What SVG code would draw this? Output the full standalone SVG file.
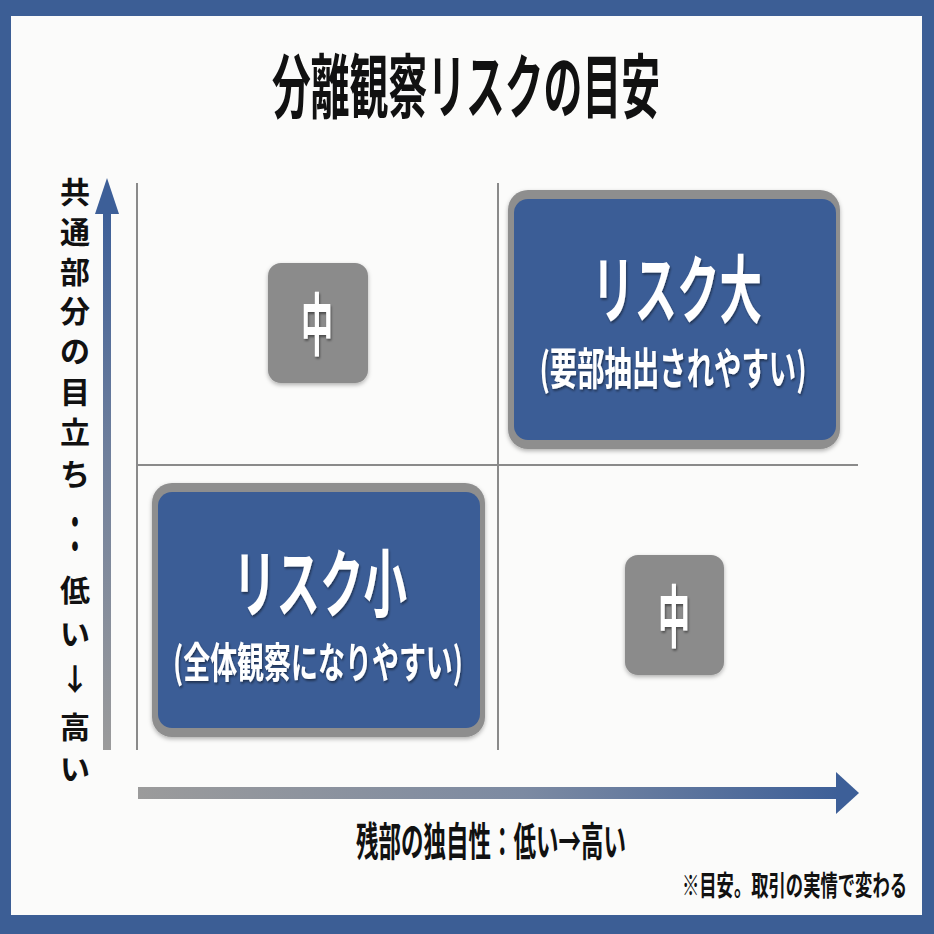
<svg xmlns="http://www.w3.org/2000/svg" width="934" height="934" viewBox="0 0 934 934">
<defs>
<style>
.jp{font-family:"Noto Sans CJK JP","Noto Sans",sans-serif;font-weight:700}
.dark{fill:#111111}
.wt{fill:#ffffff;filter:url(#tsh)}
.grid{stroke:#8a8a8a;stroke-width:2;fill:none}
.outer{fill:#8e8e8e}
.inner{fill:#3b5d96}
.mid{fill:#8b8b8b}
</style>
<linearGradient id="gv" x1="0" y1="1" x2="0" y2="0">
<stop offset="0" stop-color="#9b9b9b"/>
<stop offset="0.55" stop-color="#6f7f9c"/>
<stop offset="1" stop-color="#3d5f98"/>
</linearGradient>
<linearGradient id="gh" x1="0" y1="0" x2="1" y2="0">
<stop offset="0" stop-color="#9b9b9b"/>
<stop offset="0.55" stop-color="#7c8aa2"/>
<stop offset="1" stop-color="#3d5f98"/>
</linearGradient>
<filter id="tsh" x="-10%" y="-10%" width="120%" height="130%">
<feDropShadow dx="1" dy="2" stdDeviation="1.2" flood-color="#000" flood-opacity="0.45"/>
</filter>
<filter id="bsh" x="-10%" y="-10%" width="120%" height="130%">
<feDropShadow dx="0" dy="2" stdDeviation="2" flood-color="#000" flood-opacity="0.3"/>
</filter>
</defs>
<rect x="0" y="0" width="934" height="934" fill="#3c5e95"/>
<rect x="11" y="16" width="911" height="899" fill="#fbfbfa"/>

<g id="title">
<text class="jp dark" x="466" y="113" font-size="70" text-anchor="middle" textLength="388" lengthAdjust="spacingAndGlyphs">分離観察リスクの目安</text>
</g>

<g id="connectors">
<line class="grid" x1="137" y1="183" x2="137" y2="750"/>
<line class="grid" x1="498" y1="183" x2="498" y2="750"/>
<line class="grid" x1="137" y1="465" x2="858" y2="465"/>
<line x1="137" y1="750" x2="858" y2="750" stroke="#7a7a7a" stroke-width="3" filter="url(#bsh)"/>
<rect x="103" y="210" width="8" height="540" fill="url(#gv)"/>
<polygon points="107,178 95,214 119,214" fill="#3d5f98"/>
<rect x="138" y="787" width="702" height="12" fill="url(#gh)"/>
<polygon points="859,793 836,772 836,814" fill="#3d5f98"/>
</g>

<g id="y-label" class="jp dark" font-size="30" text-anchor="middle">
<text x="75" y="203">共</text>
<text x="75" y="243">通</text>
<text x="75" y="283">部</text>
<text x="75" y="322">分</text>
<text x="75" y="362">の</text>
<text x="75" y="403">目</text>
<text x="75" y="443">立</text>
<text x="75" y="485">ち</text>
<text x="75" y="0" transform="translate(0,553) scale(1,1.7)">：</text>
<text x="75" y="601">低</text>
<text x="75" y="645">い</text>
<text x="75" y="690">↓</text>
<text x="75" y="738">高</text>
<text x="75" y="780">い</text>
</g>

<g id="x-label">
<text class="jp dark" x="491" y="856" font-size="40" text-anchor="middle" textLength="270" lengthAdjust="spacingAndGlyphs">残部の独自性：低い→高い</text>
</g>

<g id="note">
<text class="jp dark" x="907" y="896" font-size="28" text-anchor="end" textLength="225" lengthAdjust="spacingAndGlyphs">※目安。取引の実情で変わる</text>
</g>

<g id="risk-high">
<rect class="outer" x="508" y="190" width="332" height="259" rx="20" filter="url(#bsh)"/>
<rect class="inner" x="514" y="199" width="322" height="241" rx="14"/>
<text class="jp wt" x="677" y="317" font-size="74" text-anchor="middle" textLength="170" lengthAdjust="spacingAndGlyphs">リスク大</text>
<text class="jp wt" x="673" y="385" font-size="44" text-anchor="middle" textLength="267" lengthAdjust="spacingAndGlyphs">(要部抽出されやすい)</text>
</g>

<g id="risk-low">
<rect class="outer" x="152" y="483" width="333" height="254" rx="20" filter="url(#bsh)"/>
<rect class="inner" x="158" y="492" width="322" height="236" rx="14"/>
<text class="jp wt" x="320" y="611" font-size="74" text-anchor="middle" textLength="174" lengthAdjust="spacingAndGlyphs">リスク小</text>
<text class="jp wt" x="318" y="678" font-size="42" text-anchor="middle" textLength="290" lengthAdjust="spacingAndGlyphs">(全体観察になりやすい)</text>
</g>

<g id="mid-top">
<rect class="mid" x="268" y="263" width="100" height="120" rx="13" filter="url(#bsh)"/>
<text class="jp wt" x="317" y="350" font-size="68" text-anchor="middle" textLength="32" lengthAdjust="spacingAndGlyphs">中</text>
</g>

<g id="mid-bottom">
<rect class="mid" x="625" y="555" width="99" height="120" rx="13" filter="url(#bsh)"/>
<text class="jp wt" x="674" y="642" font-size="68" text-anchor="middle" textLength="32" lengthAdjust="spacingAndGlyphs">中</text>
</g>
</svg>
